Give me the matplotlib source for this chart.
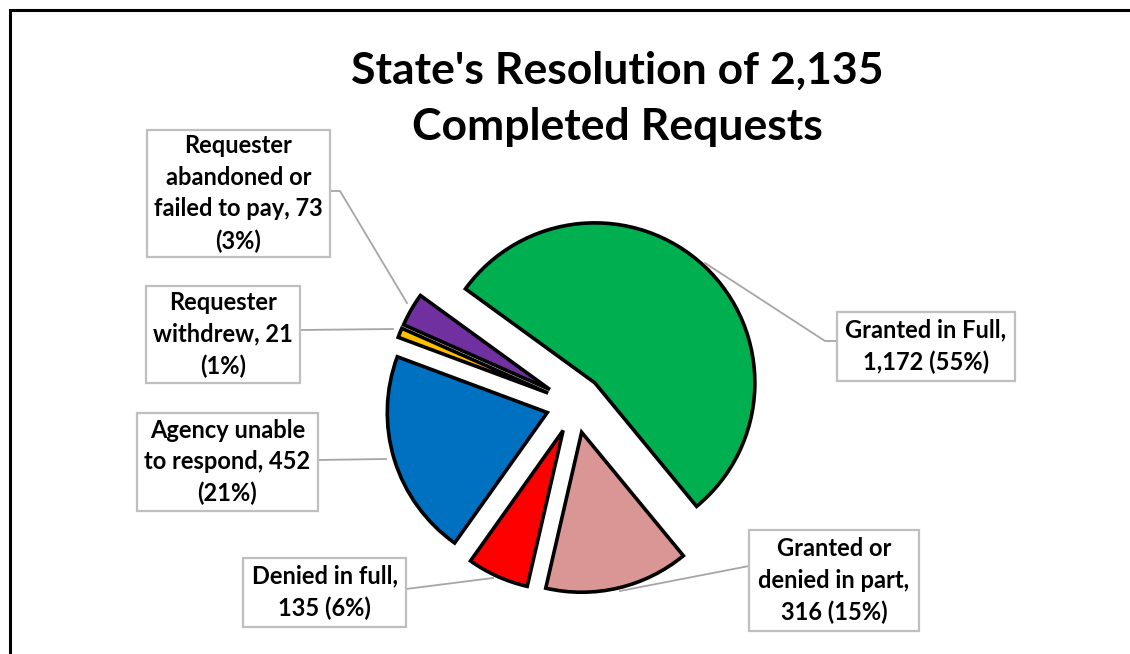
import matplotlib
matplotlib.use('Agg')
import matplotlib.pyplot as plt
from matplotlib.patches import Rectangle

# data
categories = ['Granted in Full', 'Granted or denied in part', 'Denied in full',
              'Agency unable to respond', 'Requester withdrew',
              'Requester abandoned or failed to pay']
counts = [1172, 316, 135, 452, 21, 73]
slice_colors = ['#00B050', '#D99694', '#FF0000', '#0070C0', '#FFC000', '#7030A0']
label_texts = ['Granted in Full,\n1,172 (55%)',
               'Granted or\ndenied in part,\n316 (15%)',
               'Denied in full,\n135 (6%)',
               'Agency unable\nto respond, 452\n(21%)',
               'Requester\nwithdrew, 21\n(1%)',
               'Requester\nabandoned or\nfailed to pay, 73\n(3%)']
title = "State's Resolution of 2,135\nCompleted Requests"

W, H = 1130, 654
fnt = 'Lato'

fig = plt.figure(figsize=(W / 100, H / 100), dpi=100)
ax = fig.add_axes([0, 0, 1, 1])

# pie in pixel coordinates (y flipped); explode is in data units here
cx, cy, r = 575, 404, 160
ax.pie(counts, colors=slice_colors, startangle=144, counterclock=False,
       explode=[29] * len(counts), center=(cx, H - cy), radius=r,
       wedgeprops=dict(edgecolor='black', linewidth=2.6), frame=True)

ax.set_xlim(0, W)
ax.set_ylim(0, H)
ax.set_aspect('equal')
ax.axis('off')

# outer chart border
fig.patches.append(Rectangle((10 / W, -0.1), 1.2, (H - 10) / H + 0.1,
                             transform=fig.transFigure, fill=False,
                             edgecolor='black', linewidth=2.2))

ax.text(617, H - 99, title, ha='center', va='center', fontsize=32,
        fontweight='bold', family=fnt, linespacing=1.5)

# label boxes (x0, y0, x1, y1 in pixels) and leader line points
boxes = [(837, 312, 1015, 381), (749, 530, 919, 631), (243, 558, 406, 627),
         (137, 413, 318, 511), (146, 286, 300, 383), (147, 130, 330, 257)]
leaders = [
    [(837, 341), (825, 341), (705, 263)],
    [(749, 566), (620, 591)],
    [(406, 589), (493, 578)],
    [(318, 460), (386, 459)],
    [(300, 330), (393, 329)],
    [(330, 191), (340, 191), (407, 303)],
]

for txt, (x0, y0, x1, y1), pts in zip(label_texts, boxes, leaders):
    xs = [p[0] for p in pts]
    ys = [H - p[1] for p in pts]
    ax.plot(xs, ys, color='#A6A6A6', lw=1.3, zorder=1)
    ax.add_patch(Rectangle((x0, H - y1), x1 - x0, y1 - y0, facecolor='white',
                           edgecolor='#BFBFBF', linewidth=1.6, zorder=4))
    ax.text((x0 + x1) / 2, H - (y0 + y1) / 2, txt, ha='center', va='center',
            fontsize=17, fontweight='bold', family=fnt, linespacing=1.45,
            zorder=5)

fig.savefig('out.png', dpi=100)
